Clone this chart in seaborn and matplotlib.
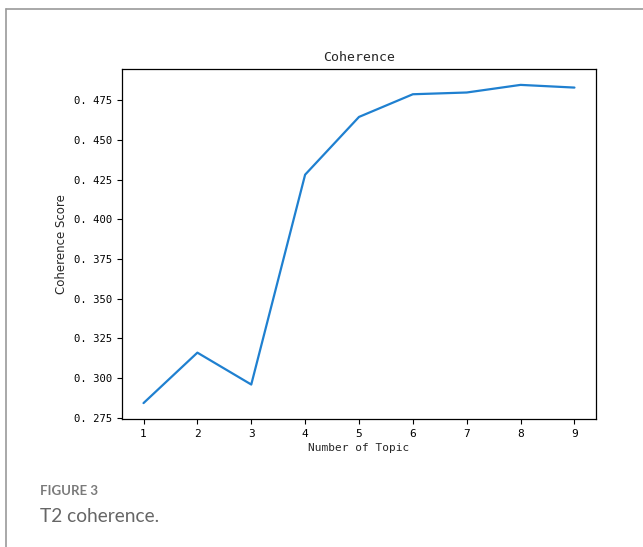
import numpy as np
import pandas as pd
import matplotlib
matplotlib.use("Agg")
import matplotlib.pyplot as plt
from matplotlib.lines import Line2D
import seaborn as sns

# coherence score per number of topics
num_topics = [1, 2, 3, 4, 5, 6, 7, 8, 9]
coherence = [0.2841, 0.3159, 0.2958, 0.4281, 0.4645, 0.4788, 0.4799, 0.4847, 0.4830]
y_ticks = [0.275, 0.300, 0.325, 0.350, 0.375, 0.400, 0.425, 0.450, 0.475]

df = pd.DataFrame({"topics": num_topics, "score": coherence})

sns.set_style("ticks")
mono = ["DejaVu Sans Mono", "Noto Sans CJK SC"]
plt.rcParams["font.family"] = mono

fig = plt.figure(figsize=(6.43, 5.47), dpi=100)
ax = fig.add_axes([0.1897, 0.234, 0.7372, 0.6399])

sns.lineplot(data=df, x="topics", y="score", color="#1f80d0", linewidth=1.6, ax=ax)

ax.set_xticks(num_topics)
ax.set_yticks(y_ticks)
ax.set_yticklabels([f"{v:.3f}".replace(".", ". ") for v in y_ticks])
ax.tick_params(axis="both", labelsize=8, length=3.5, width=0.8, colors="black")
ax.tick_params(axis="y", labelsize=7.6)
for s in ax.spines.values():
    s.set_visible(True)
    s.set_color("black")
    s.set_linewidth(0.9)

ax.set_title("Coherence", fontsize=9.5, pad=6)
ax.set_xlabel("Number of Topic", fontsize=8, labelpad=3)
ax.set_ylabel("Coherence Score", fontsize=8.5, labelpad=4,
              family=["DejaVu Sans", "Noto Sans CJK SC"])

# page frame
fig.add_artist(Line2D([6 / 643, 1], [1 - 9 / 547, 1 - 9 / 547],
                      transform=fig.transFigure, color="#9a9a9a", lw=1.2))
fig.add_artist(Line2D([6 / 643, 6 / 643], [0, 1 - 9 / 547],
                      transform=fig.transFigure, color="#9a9a9a", lw=1.2))

# caption
fig.text(40 / 643, 1 - 491 / 547, "FIGURE 3", fontsize=9.5, fontweight="bold",
         color="#7a7a7a", family="Lato", va="center")
fig.text(40 / 643, 1 - 517 / 547, "T2 coherence.", fontsize=13.8,
         color="#666666", family="Lato", va="center")

fig.savefig("out.png", dpi=100, facecolor="white")
